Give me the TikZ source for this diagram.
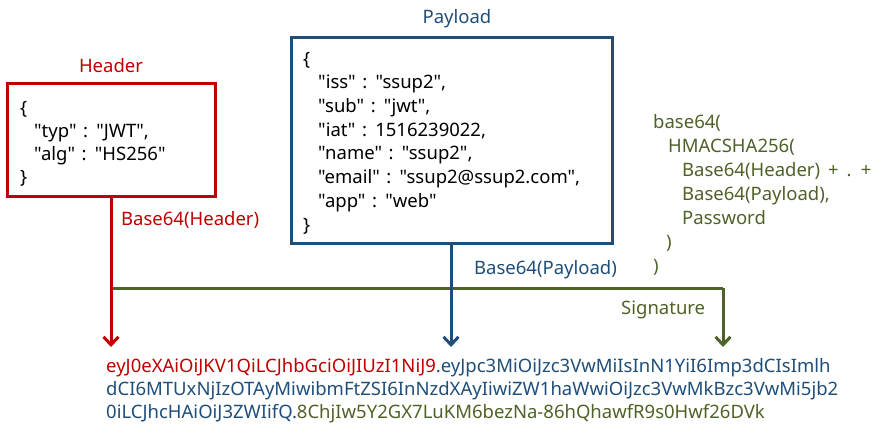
\documentclass[tikz,border=0pt]{standalone}
\usepackage{fontspec}
\setmainfont{Noto Sans}[Ligatures=TeXOff]
\usetikzlibrary{arrows.meta}
\definecolor{hred}{HTML}{C00000}
\definecolor{pblue}{HTML}{1F4E79}
\definecolor{sgreen}{HTML}{4F6228}
\newcommand\hjsonfont{\fontsize{18.5}{23}\selectfont\spaceskip=6.6pt\relax}
\newcommand\pjsonfont{\fontsize{18.5}{23.7}\selectfont\spaceskip=6.6pt\relax}
\begin{document}
\begin{tikzpicture}[x=1pt,y=-1pt,
  txt/.style={inner sep=0pt,anchor=base west,align=left},
  lbl/.style={inner sep=0pt,anchor=base west,font=\fontsize{18.5}{22}\selectfont},
  boxh/.style={draw=hred,line width=3pt,minimum width=208pt,minimum height=113pt,inner sep=0pt},
  boxp/.style={draw=pblue,line width=3pt,minimum width=321pt,minimum height=206pt,inner sep=0pt},
  conn/.style={line width=3pt},
  tip/.style={-{Straight Barb[length=8pt,width=15pt]}}]
\useasboundingbox (0,0) rectangle (883,434);
% boxes
\node[boxh] (hdr) at (111,139.5) {};
\node[boxp] (pay) at (451.5,140) {};
% titles
\node[lbl,anchor=base,text=hred] (hdrt) at (111,72) {Header};
\node[lbl,anchor=base,text=pblue] (payt) at (457,23) {Payload};
% JSON (anchor = baseline of last line)
\node[txt,font=\hjsonfont] (hjson) at (20,183) {\{\\
\hspace*{14pt}"typ" : "JWT",\\
\hspace*{14pt}"alg" : "HS256"\\
\}};
\node[txt,font=\pjsonfont] (pjson) at (303,231) {\{\\
\hspace*{15pt}"iss" : "ssup2",\\
\hspace*{15pt}"sub" : "jwt",\\
\hspace*{15pt}"iat" : 1516239022,\\
\hspace*{15pt}"name" : "ssup2",\\
\hspace*{15pt}"email" : "ssup2@ssup2.com",\\
\hspace*{15pt}"app" : "web"\\
\}};
% signature formula
\node[txt,text=sgreen,font=\fontsize{18.5}{24}\selectfont] (sig) at (653,272) {base64(\\
\hspace*{15pt}HMACSHA256(\\
\hspace*{29pt}Base64(Header)\, +\, .\, +\\
\hspace*{29pt}Base64(Payload),\\
\hspace*{29pt}Password\\
\hspace*{13pt})\\
)};
% labels
\node[lbl,text=hred] (hl) at (121,225) {Base64(Header)};
\node[lbl,text=pblue] (pl) at (474,274) {Base64(Payload)};
\node[lbl,text=sgreen] (sl) at (621,314) {Signature};
% token
\node[txt,font=\fontsize{18.5}{23}\selectfont] (tok) at (106,418) {{\color{hred}eyJ0eXAiOiJKV1QiLCJhbGciOiJIUzI1NiJ9}{\color{pblue}.eyJpc3MiOiJzc3VwMiIsInN1YiI6Imp3dCIsImlh}\\
{\color{pblue}dCI6MTUxNjIzOTAyMiwibmFtZSI6InNzdXAyIiwiZW1haWwiOiJzc3VwMkBzc3VwMi5jb2}\\
{\color{pblue}0iLCJhcHAiOiJ3ZWIifQ.}{\color{sgreen}8ChjIw5Y2GX7LuKM6bezNa-86hQhawfR9s0Hwf26DVk}};
% connector endpoints
\coordinate (ht) at (111,347);
\coordinate (pt) at (451,347);
\coordinate (st) at (723,347);
\coordinate (gs) at (111,288);
\coordinate (gc) at (723,288);
% connectors
\draw[conn,sgreen,line cap=butt] (gs) -- (gc);
\draw[conn,hred,tip] (hdr.south) -- (ht);
\draw[conn,pblue,tip] (pay.south -| pt) -- (pt);
\draw[conn,sgreen,tip] (gc) -- (st);
\end{tikzpicture}
\end{document}
